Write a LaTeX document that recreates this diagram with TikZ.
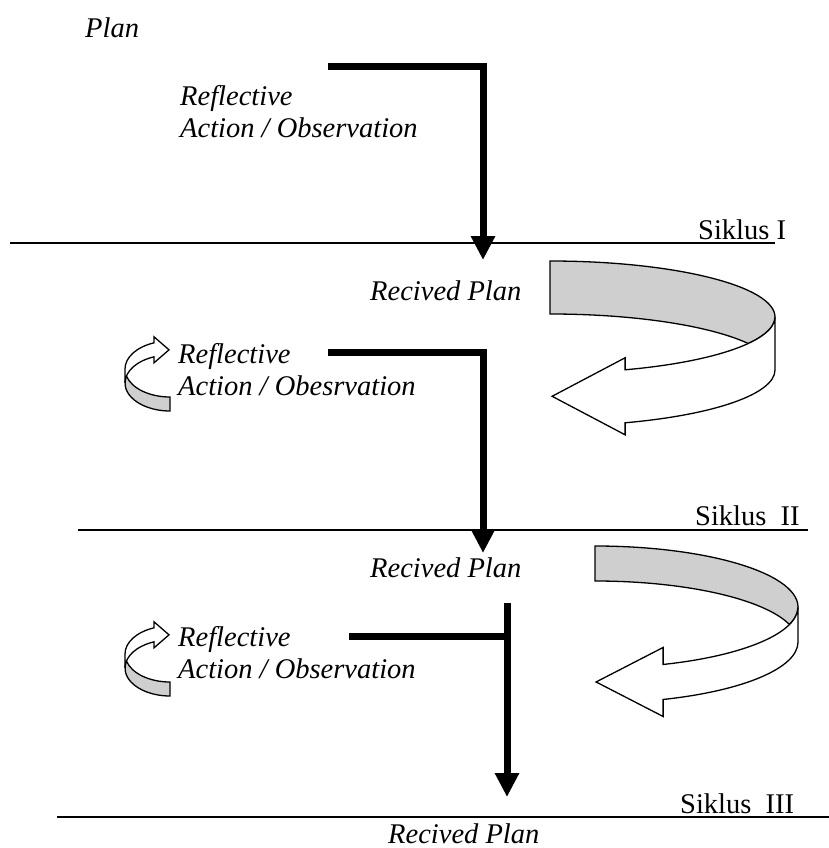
\documentclass[tikz,border=0pt]{standalone}
\usepackage{fontspec}
\setmainfont{Liberation Serif}
\usetikzlibrary{arrows.meta}
\tikzset{
	sline/.style={line width=1.6pt},
	bar/.style={line width=7pt},
	flow/.style={line width=7pt, -{Triangle[length=24pt,width=23pt]}},
	lbl/.style={anchor=base west, inner sep=0pt, font=\fontsize{28.5}{32}\selectfont\itshape},
	siklus/.style={anchor=base west, inner sep=0pt, font=\fontsize{28.5}{32}\selectfont},
	back/.style={line width=1.3pt, fill=black!19},
	front/.style={line width=1.3pt, fill=white}
}
% ribbon arrow: [options](centre)(rx:ry:height:head angle:head length:head overhang)
\def\ribbon[#1](#2)(#3:#4:#5:#6:#7:#8){
	\pgfmathsetmacro\ribcross{asin(#5/(2*#4))}
	\begin{scope}[shift={(#2)},#1]
		\draw[back] (0,-#4) arc[start angle=-90,end angle=\ribcross,x radius=#3,y radius=#4]
			arc[start angle=-\ribcross,end angle=-90,x radius=#3,y radius=#4] -- cycle;
		\draw[front] (#3,0) arc[start angle=0,end angle=#6,x radius=#3,y radius=#4]
			-- ++(0,-#8) -- ++(-#7,{#8+#5/2}) -- ++(#7,{#8+#5/2}) -- ++(0,-#8)
			arc[start angle=#6,end angle=0,x radius=#3,y radius=#4] -- cycle;
	\end{scope}
}

\begin{document}
\begin{tikzpicture}[x=1pt,y=-1pt]
		%%%%% START %%%%%
		\useasboundingbox (0,0) rectangle (829,848);
		
		\node[lbl] (plan) at (85,38) {Plan};
		
		% cycle I
		\coordinate (s1) at (328,67);
		\coordinate (c1) at (483,67);
		\coordinate (t1) at (483,260);
		\draw[flow] (s1) -- (c1) -- (t1);
		\node[lbl] (refl1) at (180,106) {Reflective};
		\node[lbl] (act1) at (180,138) {Action / Observation};
		
		\coordinate (l1a) at (10,243);
		\coordinate (l1b) at (775,243);
		\draw[sline] (l1a) -- (l1b);
		\node[siklus] (sik1) at (698,239) {Siklus I};
		
		\node[lbl] (rec1) at (370,300) {Recived Plan};
		\ribbon[](550,317)(225:56:53:70.5:73:12)
		
		% cycle II
		\ribbon[rotate=180](170,383)(45:28:14:69.2:15:6)
		\node[lbl] (refl2) at (178,363) {Reflective};
		\node[lbl] (act2) at (178,395) {Action / Obesrvation};
		
		\coordinate (s2) at (328,352);
		\coordinate (c2) at (483,352);
		\coordinate (t2) at (483,553);
		\draw[flow] (s2) -- (c2) -- (t2);
		
		\coordinate (l2a) at (78,530);
		\coordinate (l2b) at (808,530);
		\draw[sline] (l2a) -- (l2b);
		\node[siklus] (sik2) at (695,525) {Siklus\ \ II};
		
		\node[lbl] (rec2) at (370,577) {Recived Plan};
		\ribbon[](595,607)(203:61:35:70.4:67:17)
		
		% cycle III
		\ribbon[rotate=180](170,668)(45:28:14:69.2:15:6)
		\node[lbl] (refl3) at (178,646) {Reflective};
		\node[lbl] (act3) at (178,678) {Action / Observation};
		
		\coordinate (s3) at (349,636);
		\coordinate (c3) at (507,636);
		\coordinate (u3) at (507,603);
		\coordinate (t3) at (507,797);
		\draw[bar] (s3) -- (c3);
		\draw[flow] (u3) -- (t3);
		
		\coordinate (l3a) at (57,817);
		\coordinate (l3b) at (829,817);
		\draw[sline] (l3a) -- (l3b);
		\node[siklus] (sik3) at (680,813) {Siklus\ \ III};
		
		\node[lbl] (rec3) at (388,843) {Recived Plan};
		%%%%% END %%%%%
	\end{tikzpicture}
\end{document}
